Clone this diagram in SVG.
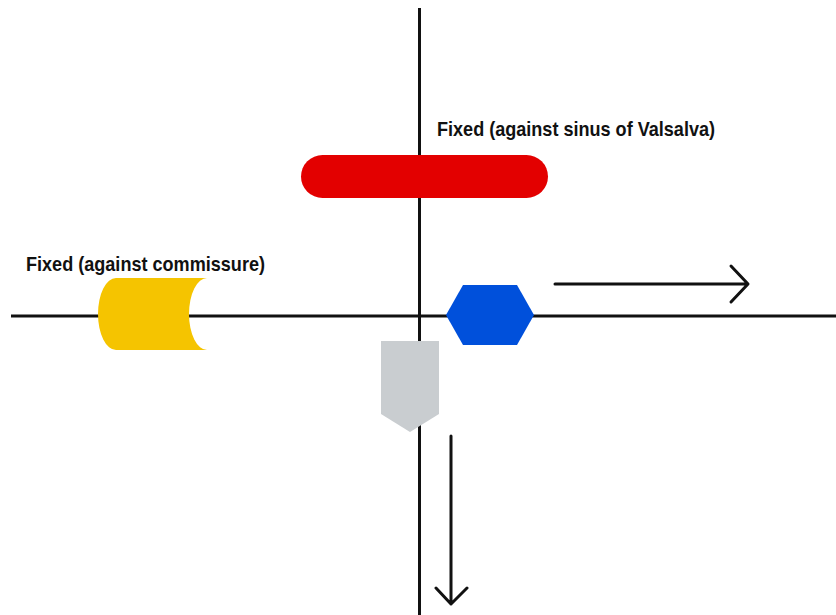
<svg xmlns="http://www.w3.org/2000/svg" width="836" height="615" viewBox="0 0 836 615">
  <style>
    .axis { stroke: #111; stroke-width: 3; fill: none; }
    .arrow { stroke: #111; stroke-width: 3; fill: none; stroke-linecap: round; stroke-linejoin: round; }
    .label { font-family: "Liberation Sans", Arial, sans-serif; font-weight: bold; font-size: 21px; fill: #111; }
  </style>
  <rect width="836" height="615" fill="#ffffff"/>

  <!-- axes and motion arrows -->
  <g id="connectors">
    <line class="axis" x1="419.5" y1="8" x2="419.5" y2="615"/>
    <line class="axis" x1="11" y1="316" x2="836" y2="316"/>
    <path class="arrow" d="M555 284 H747 M731 266 L748 284 L731 302"/>
    <path class="arrow" d="M451 436 V604 M436 588 L451 604 L467 588"/>
  </g>

  <!-- red bar on the vertical axis -->
  <g id="red-leaflet">
    <rect x="301" y="155" width="247" height="43" rx="21.5" fill="#e30000"/>
    <text class="label" x="437" y="136" textLength="278" lengthAdjust="spacingAndGlyphs">Fixed (against sinus of Valsalva)</text>
  </g>

  <!-- yellow stored-data shape on the horizontal axis -->
  <g id="yellow-leaflet">
    <path d="M116 278 H207 A18 36 0 0 0 207 350 H116 A18 36 0 0 1 116 278 Z" fill="#f5c400"/>
    <text class="label" x="26" y="271" textLength="239" lengthAdjust="spacingAndGlyphs">Fixed (against commissure)</text>
  </g>

  <!-- blue hexagon -->
  <g id="blue-hexagon">
    <polygon points="446,315 463,285 517,285 534,315 517,345 463,345" fill="#0050db"/>
  </g>

  <!-- grey pentagon -->
  <g id="grey-pentagon">
    <polygon points="381,341 439,341 439,414 410,432 381,414" fill="#c9cdd0"/>
  </g>
</svg>
